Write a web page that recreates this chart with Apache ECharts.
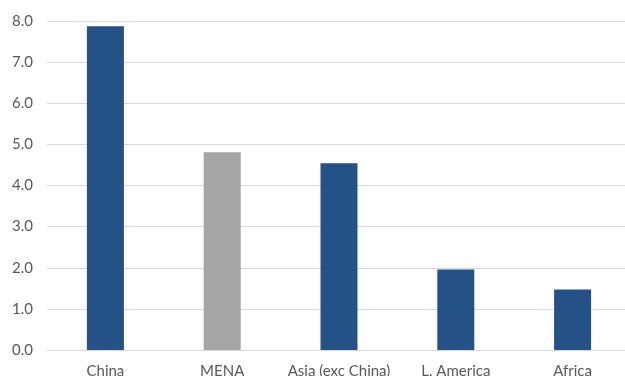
<!DOCTYPE html>
<html>
<head>
<meta charset="utf-8">
<script src="https://cdn.jsdelivr.net/npm/echarts@6/dist/echarts.min.js"></script>
<style>html,body{margin:0;padding:0;background:#fff}#c{width:625px;height:376px}</style>
</head>
<body>
<div id="c"></div>
<script>
const categories = ["China", "MENA", "Asia (exc China)", "L. America", "Africa"];
const values = [7.87, 4.81, 4.54, 1.96, 1.47];
const barColors = ["#245286", "#A5A5A5", "#245286", "#245286", "#245286"];

const chart = echarts.init(document.getElementById('c'));
chart.setOption({
  animation: false,
  grid: { left: 47, width: 584, top: 21, height: 329, containLabel: false, outerBoundsMode: 'none' },
  xAxis: {
    type: 'category',
    data: categories,
    axisLine: { lineStyle: { color: '#D9D9D9', width: 1 } },
    axisTick: { show: false },
    axisLabel: { color: '#595959', fontFamily: 'Lato', fontSize: 15, margin: 14, interval: 0 }
  },
  yAxis: {
    type: 'value',
    min: 0, max: 8, interval: 1,
    axisLine: { show: false },
    axisTick: { show: false },
    splitLine: { lineStyle: { color: '#D9D9D9', width: 1 } },
    axisLabel: { color: '#595959', fontFamily: 'Lato', fontSize: 15, margin: 14, formatter: v => v.toFixed(1) }
  },
  series: [{
    type: 'bar',
    data: values.map((v, i) => ({ value: v, itemStyle: { color: barColors[i] } })),
    barWidth: 37
  }]
});
</script>
</body>
</html>
